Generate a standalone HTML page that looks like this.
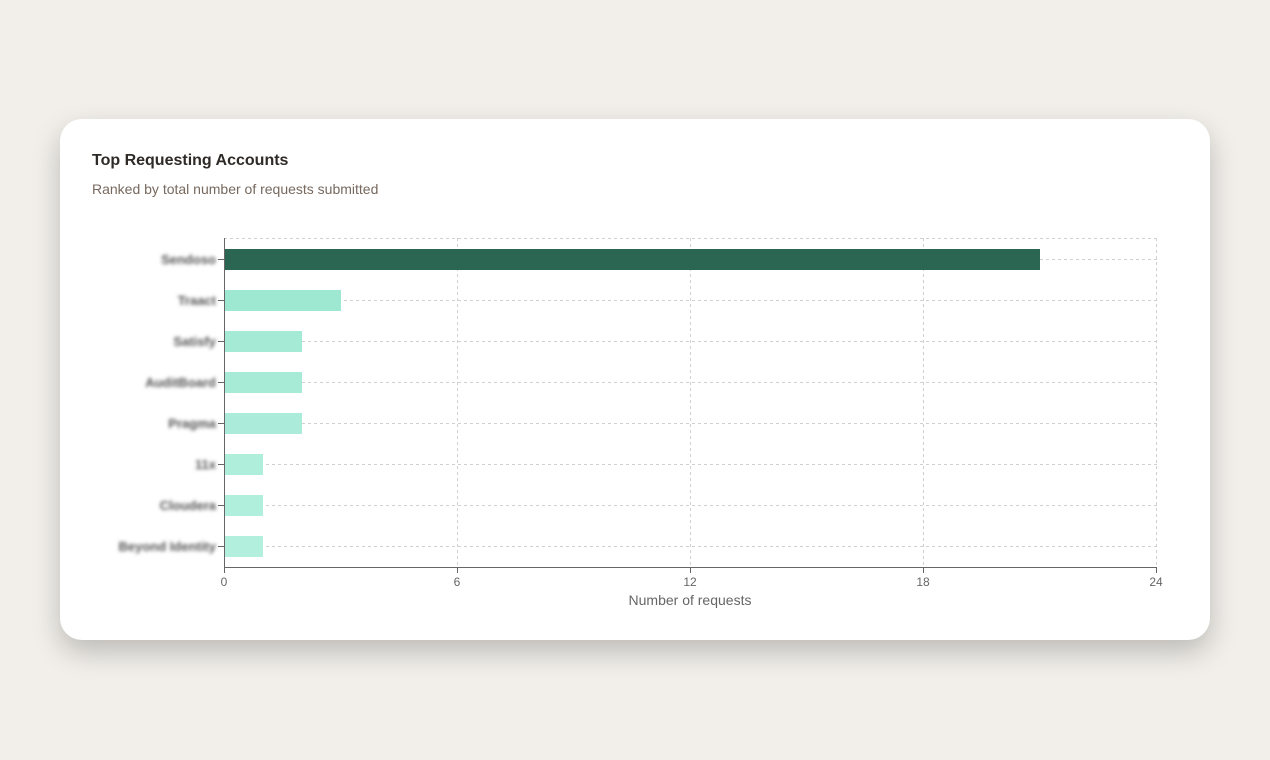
<!DOCTYPE html>
<html><head><style>
body{margin:0;width:1270px;height:760px;background:#f2efea;overflow:hidden;font-family:"Liberation Sans",sans-serif;}
.card{position:absolute;left:60px;top:119px;width:1150px;height:521px;background:#fff;border-radius:22px;box-shadow:0 12px 28px rgba(0,0,0,0.22);}
.t{position:absolute;left:92px;top:152px;font-size:16px;font-weight:bold;color:#2e2a27;}
.s{position:absolute;left:92px;top:181px;font-size:14px;color:#77695f;}
svg{position:absolute;left:0;top:0;}
</style></head><body>
<div class="card"></div>
<div class="t">Top Requesting Accounts</div>
<div class="s">Ranked by total number of requests submitted</div>
<svg width="1270" height="760" font-family="Liberation Sans, sans-serif">
<g stroke="#d0d0d0" stroke-dasharray="3,3" fill="none">
<line x1="224" y1="238.5" x2="1157" y2="238.5"/>
<line x1="224" y1="259.5" x2="1157" y2="259.5"/><line x1="224" y1="300.5" x2="1157" y2="300.5"/>
<line x1="224" y1="341.5" x2="1157" y2="341.5"/><line x1="224" y1="382.5" x2="1157" y2="382.5"/>
<line x1="224" y1="423.5" x2="1157" y2="423.5"/><line x1="224" y1="464.5" x2="1157" y2="464.5"/>
<line x1="224" y1="505.5" x2="1157" y2="505.5"/><line x1="224" y1="546.5" x2="1157" y2="546.5"/>
<line x1="457.5" y1="238" x2="457.5" y2="567"/><line x1="690.5" y1="238" x2="690.5" y2="567"/>
<line x1="923.5" y1="238" x2="923.5" y2="567"/><line x1="1156.5" y1="238" x2="1156.5" y2="567"/>
</g>
<rect x="224" y="249" width="816" height="21" fill="#2a6652"/>
<rect x="224" y="290" width="117" height="21" fill="#9ee8d1"/>
<rect x="224" y="331" width="78" height="21" fill="#a4ead5"/>
<rect x="224" y="372" width="78" height="21" fill="#a7ebd7"/>
<rect x="224" y="413" width="78" height="21" fill="#aaecd9"/>
<rect x="224" y="454" width="39" height="21" fill="#aeeedb"/>
<rect x="224" y="495" width="39" height="21" fill="#b0efdc"/>
<rect x="224" y="536" width="39" height="21" fill="#b2f0dd"/>
<g stroke="#666"><line x1="224.5" y1="238" x2="224.5" y2="568"/><line x1="224" y1="567.5" x2="1157" y2="567.5"/>
<line x1="218" y1="259.5" x2="224" y2="259.5"/><line x1="218" y1="300.5" x2="224" y2="300.5"/><line x1="218" y1="341.5" x2="224" y2="341.5"/><line x1="218" y1="382.5" x2="224" y2="382.5"/><line x1="218" y1="423.5" x2="224" y2="423.5"/><line x1="218" y1="464.5" x2="224" y2="464.5"/><line x1="218" y1="505.5" x2="224" y2="505.5"/><line x1="218" y1="546.5" x2="224" y2="546.5"/>
<line x1="224.5" y1="567" x2="224.5" y2="573"/><line x1="457.5" y1="567" x2="457.5" y2="573"/><line x1="690.5" y1="567" x2="690.5" y2="573"/><line x1="923.5" y1="567" x2="923.5" y2="573"/><line x1="1156.5" y1="567" x2="1156.5" y2="573"/></g>
<defs><filter id="b"><feGaussianBlur stdDeviation="1.9"/></filter></defs>
<g font-size="13" fill="#555" text-anchor="end" filter="url(#b)" font-weight="bold">
<text x="216" y="264">Sendoso</text><text x="216" y="305">Traact</text><text x="216" y="346">Satisfy</text><text x="216" y="387">AuditBoard</text><text x="216" y="428">Pragma</text><text x="216" y="469">11x</text><text x="216" y="510">Cloudera</text><text x="216" y="551">Beyond Identity</text>
</g>
<g font-size="12" fill="#666" text-anchor="middle">
<text x="224" y="586">0</text><text x="457" y="586">6</text><text x="690" y="586">12</text><text x="923" y="586">18</text><text x="1156" y="586">24</text>
<text x="690" y="605" font-size="14">Number of requests</text></g>
</svg>
</body></html>
